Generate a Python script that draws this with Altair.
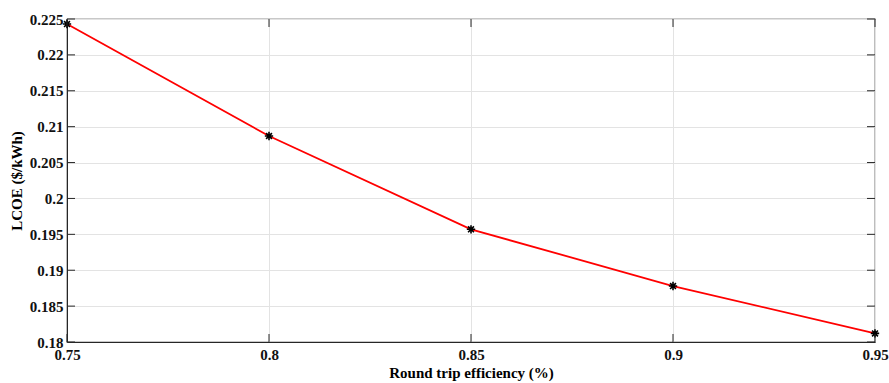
import altair as alt
import pandas as pd

efficiency = [0.75, 0.80, 0.85, 0.90, 0.95]
lcoe = [0.2243, 0.2087, 0.1957, 0.1878, 0.1812]
x_ticks = [0.75, 0.80, 0.85, 0.90, 0.95]
y_ticks = [0.18, 0.185, 0.19, 0.195, 0.20, 0.205, 0.21, 0.215, 0.22, 0.225]

df = pd.DataFrame({"eff": efficiency, "lcoe": lcoe})
xt = pd.DataFrame({"v": x_ticks})
yt = pd.DataFrame({"v": y_ticks})

W, H = 808, 323
FONT = "Liberation Serif"

xscale = alt.Scale(domain=[0.75, 0.95], nice=False, zero=False)
yscale = alt.Scale(domain=[0.18, 0.225], nice=False, zero=False)

common = dict(grid=True, gridColor="#e3e3e3", tickSize=0, domainColor="#262626",
              labelFont=FONT, labelFontWeight="bold", labelFontSize=15,
              labelColor="#111111", titleFont=FONT, titleFontWeight="bold",
              titleFontSize=15, titleColor="#000000", labelFlush=False,
              labelOverlap=False)
xaxis = alt.Axis(values=x_ticks, format="~g", title="Round trip efficiency (%)",
                 labelPadding=5, titlePadding=3, **common)
yaxis = alt.Axis(values=y_ticks, format="~g", title="LCOE ($/kWh)",
                 labelPadding=4, titlePadding=5, **common)

line = alt.Chart(df).mark_line(color="#ff0000", strokeWidth=1.8).encode(
    x=alt.X("eff:Q", scale=xscale, axis=xaxis),
    y=alt.Y("lcoe:Q", scale=yscale, axis=yaxis),
)

asterisk = "M-1,0L1,0M0,-1L0,1M-0.7,-0.7L0.7,0.7M-0.7,0.7L0.7,-0.7"
pts = alt.Chart(df).mark_point(shape=asterisk, filled=False, color="black",
                               strokeWidth=1.6, size=70, opacity=1).encode(
    x=alt.X("eff:Q", scale=xscale, axis=xaxis),
    y=alt.Y("lcoe:Q", scale=yscale, axis=yaxis),
)

tick_style = dict(color="#262626", strokeWidth=1)
xt_bot = alt.Chart(xt).mark_rule(**tick_style).encode(
    x=alt.X("v:Q", scale=xscale, axis=xaxis), y=alt.value(H), y2=alt.value(H - 8))
xt_top = alt.Chart(xt).mark_rule(**tick_style).encode(
    x=alt.X("v:Q", scale=xscale, axis=xaxis), y=alt.value(0), y2=alt.value(8))
yt_left = alt.Chart(yt).mark_rule(**tick_style).encode(
    y=alt.Y("v:Q", scale=yscale, axis=yaxis), x=alt.value(0), x2=alt.value(8))
yt_right = alt.Chart(yt).mark_rule(**tick_style).encode(
    y=alt.Y("v:Q", scale=yscale, axis=yaxis), x=alt.value(W), x2=alt.value(W - 8))

chart = alt.layer(line, pts, xt_bot, xt_top, yt_left, yt_right).properties(
    width=W, height=H,
    autosize=alt.AutoSizeParams(type="none"),
    padding={"left": 67, "top": 19, "right": 14, "bottom": 41},
    background="white",
).configure_view(stroke="#262626", strokeWidth=1.2)

chart.save("out.html", embed_options={"renderer": "svg", "actions": False})
